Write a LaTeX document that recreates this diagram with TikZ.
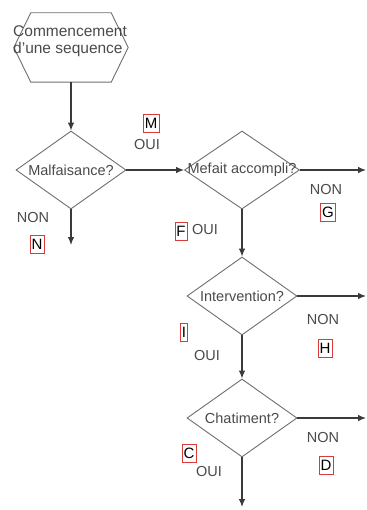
\documentclass[tikz,border=0pt]{standalone}
\usepackage{fontspec}
\setmainfont{Liberation Sans}
\usetikzlibrary{shapes.geometric,arrows.meta}
\definecolor{traitgris}{HTML}{3A3A3A}
\definecolor{bordgris}{HTML}{6E6E6E}
\definecolor{textegris}{HTML}{4A4A4A}
\definecolor{rougecadre}{HTML}{D93A3A}
\newcommand{\dtexte}[1]{\makebox[0pt]{#1}}
\begin{document}
\begin{tikzpicture}[x=1pt,y=-1pt,>={Latex[length=8pt,width=6.5pt]},
	every node/.style={font=\fontsize{14.5}{16}\selectfont},
	startbox/.style={rectangle,minimum width=114,minimum height=69,inner sep=0pt},
	decision/.style={diamond,draw=bordgris,line width=0.9pt,minimum width=110,minimum height=78,inner sep=0pt,text=textegris},
	reponse/.style={text=textegris,inner sep=0pt},
	lettre/.style={draw=rougecadre,line width=0.5pt,inner sep=1.5pt,minimum height=18,text=black,font=\fontsize{15}{16}\selectfont},
	fleche/.style={->,draw=traitgris,line width=1.1pt}]
		\useasboundingbox (0,0) rectangle (366,510);
		% debut
		\node[startbox] (debut) at (71,47.5) {};
		\draw[bordgris,line width=0.9pt] ([xshift=17]debut.north west) -- ([xshift=-17]debut.north east) -- (debut.east)
			-- ([xshift=-17]debut.south east) -- ([xshift=17]debut.south west) -- (debut.west) -- cycle;
		\node[anchor=north west,align=left,inner sep=0pt,text=textegris,font=\fontsize{15.5}{17}\selectfont] (debuttexte) at (13,25) {Commencement\\d'une sequence};
		% questions
		\node[decision] (malf) at (71,170) {\dtexte{Malfaisance?}};
		\node[decision,minimum width=115] (mefait) at (242,170) {\dtexte{Mefait accompli?}};
		\node[decision] (interv) at (242,296) {\dtexte{Intervention?}};
		\node[decision] (chat) at (242,418) {\dtexte{Chatiment?}};
		% fins de fleches
		\coordinate (finN) at (71,245);
		\coordinate (finG) at (366,170);
		\coordinate (finH) at (366,296);
		\coordinate (finD) at (366,418);
		\coordinate (finC) at (242,507);
		% fleches
		\draw[fleche] (debut.south) -- (malf.north);
		\draw[fleche] (malf.east) -- (mefait.west);
		\draw[fleche] (malf.south) -- (finN);
		\draw[fleche] (mefait.east) -- (finG);
		\draw[fleche] (mefait.south) -- (interv.north);
		\draw[fleche] (interv.east) -- (finH);
		\draw[fleche] (interv.south) -- (chat.north);
		\draw[fleche] (chat.east) -- (finD);
		\draw[fleche] (chat.south) -- (finC);
		% OUI / NON
		\node[reponse] (ouiM) at (147,145) {OUI};
		\node[reponse] (nonN) at (33,218) {NON};
		\node[reponse] (ouiF) at (205,230) {OUI};
		\node[reponse] (nonG) at (326,190) {NON};
		\node[reponse] (ouiI) at (207,356) {OUI};
		\node[reponse] (nonH) at (323,320) {NON};
		\node[reponse] (ouiC) at (209,472) {OUI};
		\node[reponse] (nonD) at (323,438) {NON};
		% lettres
		\node[lettre] (M) at (151,123) {M};
		\node[lettre] (N) at (37,244) {N};
		\node[lettre] (F) at (181,231) {F};
		\node[lettre] (G) at (328,212) {G};
		\node[lettre] (I) at (184,332) {I};
		\node[lettre] (H) at (325,348) {H};
		\node[lettre] (C) at (189,453) {C};
		\node[lettre] (D) at (326,465) {D};
\end{tikzpicture}
\end{document}
